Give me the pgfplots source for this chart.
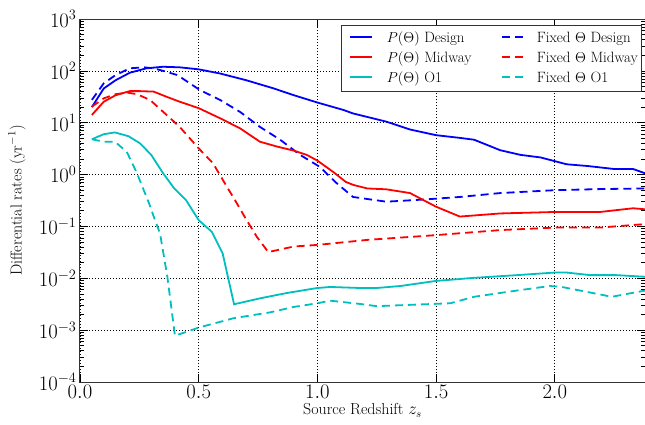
\documentclass[border=0pt]{standalone}
\usepackage{pgfplots}
\pgfplotsset{compat=1.18}
\definecolor{mplc}{rgb}{0,0.75,0.75}
\begin{document}
\begin{tikzpicture}
\begin{axis}[
  name=ax,
  width=565bp, height=363bp, scale only axis,
  xmin=0, xmax=2.38, ymin=1e-4, ymax=1e3, ymode=log,
  xtick={0,0.5,1.0,1.5,2.0},
  xticklabel style={/pgf/number format/fixed,/pgf/number format/precision=1,/pgf/number format/fixed zerofill},
  ytick={1e-4,1e-3,1e-2,1e-1,1,1e1,1e2,1e3},
  tick label style={font=\fontsize{20}{23}\selectfont},
  grid=major,
  major grid style={black, line width=0.6bp, dash pattern=on 1bp off 2bp},
  axis line style={black!80, line width=1bp},
  tick style={black, line width=0.7bp},
  major tick length=8bp, minor tick length=4bp,
  xlabel={Source Redshift $z_s$},
  ylabel={Differential rates (yr$^{-1}$)},
  label style={font=\fontsize{16}{19}\selectfont},
  xlabel style={at={(axis description cs:0.5,-0.0909)}, anchor=base},
  ylabel style={at={(axis description cs:-0.1115,0.5)}, anchor=center},
  every axis plot/.append style={line width=1.8bp},
  dashstyle/.style={dash pattern=on 8bp off 5bp},
]
% P(Theta) Design
\addplot[blue] coordinates {
(0.05,20.0) (0.10,45.7) (0.15,66) (0.21,92) (0.28,112) (0.35,120) (0.42,117)
(0.50,107) (0.59,89) (0.70,66) (0.815,46) (0.90,34) (1.00,24.5) (1.11,17.6)
(1.15,15.1) (1.29,10.5) (1.39,7.4) (1.50,5.75) (1.60,5.1) (1.66,4.7) (1.77,2.95)
(1.855,2.4) (1.94,2.14) (2.05,1.58) (2.14,1.46) (2.25,1.28) (2.33,1.28) (2.38,1.06)
};
% Fixed Theta Design
\addplot[blue, dashstyle] coordinates {
(0.05,27.5) (0.10,57.5) (0.15,83) (0.21,112) (0.27,117) (0.31,112) (0.35,100)
(0.41,83) (0.505,42.7) (0.59,27.5) (0.674,16.2) (0.758,8.3) (0.843,4.7)
(0.927,2.4) (1.01,1.41) (1.08,0.69) (1.15,0.37) (1.29,0.30) (1.447,0.33)
(1.60,0.37) (1.77,0.44) (2.0,0.50) (2.19,0.525) (2.38,0.54)
};
% P(Theta) Midway
\addplot[red] coordinates {
(0.05,14.1) (0.10,25.4) (0.15,33.9) (0.21,40.7) (0.25,40.7) (0.31,39.8)
(0.365,31.6) (0.42,25.4) (0.50,19.1) (0.59,12.2) (0.674,7.8) (0.758,4.3)
(0.83,3.47) (0.90,2.9) (0.955,2.4) (1.0,1.86) (1.067,1.12) (1.12,0.72)
(1.152,0.63) (1.21,0.54) (1.29,0.52) (1.39,0.44) (1.50,0.24) (1.60,0.155)
(1.77,0.178) (2.0,0.19) (2.19,0.19) (2.33,0.224) (2.38,0.214)
};
% Fixed Theta Midway
\addplot[red, dashstyle] coordinates {
(0.05,20.4) (0.10,29.5) (0.15,35.5) (0.20,38) (0.24,35.5) (0.295,27.5)
(0.365,14.1) (0.42,8.3) (0.50,3.2) (0.56,1.66) (0.618,0.59) (0.653,0.32)
(0.702,0.132) (0.745,0.063) (0.793,0.032) (0.90,0.041) (1.0,0.044)
(1.21,0.055) (1.50,0.068) (1.77,0.085) (2.0,0.095) (2.19,0.095) (2.38,0.111)
};
% P(Theta) O1
\addplot[mplc] coordinates {
(0.05,4.8) (0.10,6.0) (0.147,6.5) (0.204,5.5) (0.253,4.0) (0.30,2.4)
(0.35,1.06) (0.397,0.54) (0.447,0.32) (0.50,0.132) (0.555,0.079) (0.601,0.030)
(0.649,0.00316) (0.758,0.0041) (0.871,0.0052) (1.0,0.0065) (1.054,0.0068)
(1.18,0.0065) (1.25,0.0065) (1.35,0.0071) (1.50,0.0089) (1.66,0.0102)
(1.84,0.0115) (2.0,0.0129) (2.05,0.0129) (2.15,0.0115) (2.26,0.0115) (2.38,0.0107)
};
% Fixed Theta O1
\addplot[mplc, dashstyle] coordinates {
(0.05,4.8) (0.10,4.3) (0.147,4.3) (0.197,2.75) (0.24,1.06) (0.28,0.37)
(0.292,0.27) (0.316,0.132) (0.337,0.074) (0.368,0.0107) (0.40,0.00078)
(0.5,0.00112) (0.647,0.0017) (0.80,0.0022) (0.90,0.0028) (1.0,0.0033)
(1.054,0.0037) (1.18,0.0032) (1.25,0.0029) (1.56,0.0033) (1.66,0.0044)
(1.84,0.0058) (1.98,0.0071) (2.03,0.0068) (2.24,0.0044) (2.38,0.0058)
};
\end{axis}
% legend box, laid out by hand from the axis' top left corner
\begin{scope}[shift={(ax.north west)}, x=1bp, y=1bp,
  every node/.style={anchor=base west, inner sep=0pt, font=\fontsize{15}{18}\selectfont}]
  \draw[black!80, line width=1bp, fill=white] (261.7,-7) rectangle (561.7,-73);
  \draw[blue, line width=1.8bp] (270,-18.3) -- (292,-18.3);
  \node at (306.7,-23.7) {$P(\Theta)$ Design};
  \draw[red, line width=1.8bp] (270,-38.3) -- (292,-38.3);
  \node at (306.7,-43.7) {$P(\Theta)$ Midway};
  \draw[mplc, line width=1.8bp] (270,-58.3) -- (292,-58.3);
  \node at (306.7,-63.7) {$P(\Theta)$ O1};
  \draw[blue, line width=1.8bp, dash pattern=on 8bp off 5bp] (421.7,-18.3) -- (443.7,-18.3);
  \node at (456.7,-23.7) {Fixed $\Theta$ Design};
  \draw[red, line width=1.8bp, dash pattern=on 8bp off 5bp] (421.7,-38.3) -- (443.7,-38.3);
  \node at (456.7,-43.7) {Fixed $\Theta$ Midway};
  \draw[mplc, line width=1.8bp, dash pattern=on 8bp off 5bp] (421.7,-58.3) -- (443.7,-58.3);
  \node at (456.7,-63.7) {Fixed $\Theta$ O1};
\end{scope}
\pgfresetboundingbox
\path[use as bounding box] ([xshift=-80bp,yshift=-43bp]ax.south west) rectangle ([yshift=19bp]ax.north east);
\end{tikzpicture}
\end{document}
